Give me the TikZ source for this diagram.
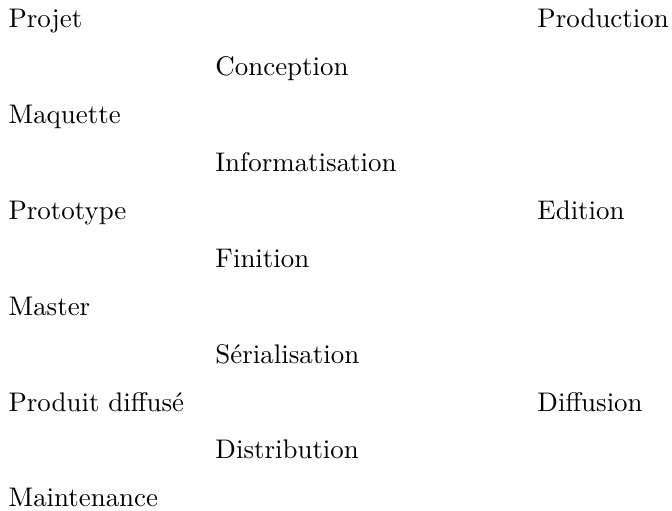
\documentclass[tikz,border=0pt]{standalone}
\usepackage{amsmath}

\begin{document}
\begin{tikzpicture}[x=1pt,y=1pt,
                    main node/.style={anchor=base west,inner sep=0pt}]

  \useasboundingbox (0,0) rectangle (249.8,-189.6);

  \node[main node] (proj) at (3,-10.4) {Projet};
  \node[main node] (conc) at (79.9,-28.2) {Conception};
  \node[main node] (maq)  at (3,-46.0) {Maquette};
  \node[main node] (info) at (79.9,-63.8) {Informatisation};
  \node[main node] (proto) at (3,-81.6) {Prototype};
  \node[main node] (fin)  at (79.9,-99.4) {Finition};
  \node[main node] (mast) at (3,-117.2) {Master};
  \node[main node] (ser)  at (79.9,-135.0) {S\'erialisation};
  \node[main node] (prod) at (3,-152.8) {Produit diffus\'e};
  \node[main node] (distr) at (79.9,-170.6) {Distribution};
  \node[main node] (maint) at (3,-188.4) {Maintenance};

  \node[main node] (phprod) at (199.6,-10.4) {Production};
  \node[main node] (phed)   at (199.6,-81.6) {Edition};
  \node[main node] (phdiff) at (199.6,-152.8) {Diffusion};
\end{tikzpicture}
\end{document}
